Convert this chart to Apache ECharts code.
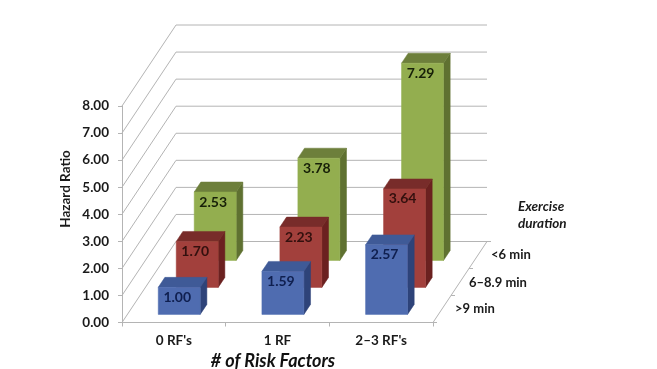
<!DOCTYPE html>
<html>
<head>
<meta charset="utf-8">
<style>
  html, body { margin: 0; padding: 0; background: #fff; }
  #chart { width: 657px; height: 369px; }
</style>
<script src="https://cdn.jsdelivr.net/npm/echarts@6/dist/echarts.min.js"></script>
</head>
<body>
<div id="chart"></div>
<script>
const FONT = "Lato, sans-serif";
const riskFactors = ["0 RF's", "1 RF", "2–3 RF's"];
const hazardTicks = [0, 1, 2, 3, 4, 5, 6, 7, 8];
const over9Min = [1.0, 1.59, 2.57];
const from6To9Min = [1.7, 2.23, 3.64];
const under6Min = [2.53, 3.78, 7.29];
const durations = [">9 min", "6–8.9 min", "<6 min"];

// Oblique projection: the whole floor depth in pixels, and the share of it each bar uses.
const DEPTH_X = 54;
const DEPTH_Y = -81;
const SLOT_FRONT = [0.1, 0.433, 0.766];
const BAR_DEPTH = 0.123;
const BAR_BAND = 0.405;

const BLUE = { front: "#4f6cb0", top: "#3f5a97", side: "#2e4379", text: "#0f1f4f" };
const RED = { front: "#a2403c", top: "#782c2a", side: "#6b2120", text: "#33100e" };
const GREEN = { front: "#93ae4f", top: "#6d7f3b", side: "#5f7131", text: "#172008" };
const WALL = "#b4b4b4";

function poly(points, fill) {
  return { type: "polygon", shape: { points }, style: { fill, stroke: fill, lineWidth: 0.5 } };
}

function line(points, stroke) {
  return { type: "polyline", shape: { points }, style: { stroke, fill: null, lineWidth: 1 } };
}

// Back wall, left wall and the floor edge for one value tick.
function renderWall(params, api) {
  const left = api.coord([0, api.value(1)]);
  const size = api.size([1, 0]);
  const x0 = left[0] - size[0] / 2;
  const x1 = x0 + size[0] * riskFactors.length;
  const y = left[1];
  const children = [
    line([[x0, y], [x0 + DEPTH_X, y + DEPTH_Y], [x1 + DEPTH_X, y + DEPTH_Y]], WALL),
  ];
  if (api.value(1) === 0) {
    children.push(line([[x1, y], [x1 + DEPTH_X, y + DEPTH_Y]], WALL));
    [0, 1 / 3, 2 / 3, 1].forEach((d) => {
      const px = x1 + DEPTH_X * d;
      const py = y + DEPTH_Y * d;
      children.push(line([[px, py], [px + 4, py]], WALL));
    });
  }
  return { type: "group", children };
}

function barSeries(values, slot, colors) {
  return {
    type: "custom",
    coordinateSystem: "cartesian2d",
    clip: false,
    silent: true,
    data: values.map((v, i) => [i, v]),
    encode: { x: 0, y: 1 },
    renderItem(params, api) {
      const top = api.coord([api.value(0), api.value(1)]);
      const base = api.coord([api.value(0), 0]);
      const w = api.size([1, 0])[0] * BAR_BAND;
      const ox = DEPTH_X * SLOT_FRONT[slot];
      const oy = DEPTH_Y * SLOT_FRONT[slot];
      const dx = DEPTH_X * BAR_DEPTH;
      const dy = DEPTH_Y * BAR_DEPTH;
      const xl = top[0] - w / 2 + ox;
      const xr = xl + w;
      const yt = top[1] + oy;
      const yb = base[1] + oy;
      return {
        type: "group",
        children: [
          poly([[xr, yt], [xr + dx, yt + dy], [xr + dx, yb + dy], [xr, yb]], colors.side),
          poly([[xl, yt], [xl + dx, yt + dy], [xr + dx, yt + dy], [xr, yt]], colors.top),
          poly([[xl, yt], [xr, yt], [xr, yb], [xl, yb]], colors.front),
          {
            type: "text",
            style: {
              x: (xl + xr) / 2 - 2,
              y: yt + 10,
              text: api.value(1).toFixed(2),
              fill: colors.text,
              font: "bold 14px " + FONT,
              align: "center",
              verticalAlign: "middle",
            },
          },
        ],
      };
    },
  };
}

function sideText(text, x, y, style) {
  return {
    type: "text",
    left: x,
    top: y,
    style: Object.assign({ text, fill: "#1a1a1a", font: "bold 13px " + FONT }, style),
  };
}

const chart = echarts.init(document.getElementById("chart"), null, { renderer: "canvas" });
chart.setOption({
  animation: false,
  backgroundColor: "#ffffff",
  grid: { left: 122, right: 224, top: 106, bottom: 46.5, outerBoundsMode: "none" },
  xAxis: {
    type: "category",
    data: riskFactors,
    axisLine: { lineStyle: { color: WALL, width: 1 } },
    axisTick: { show: true, length: 4, lineStyle: { color: WALL } },
    axisLabel: { color: "#1a1a1a", fontFamily: FONT, fontWeight: "bold", fontSize: 13.5, margin: 11 },
    name: "# of Risk Factors",
    nameLocation: "middle",
    nameGap: 29,
    nameTextStyle: {
      color: "#111",
      fontFamily: FONT,
      fontWeight: "bold",
      fontStyle: "italic",
      fontSize: 18,
      padding: [0, 9, 0, 0],
    },
  },
  yAxis: {
    type: "value",
    min: 0,
    max: 8,
    interval: 1,
    axisLine: { show: true, lineStyle: { color: WALL, width: 1 } },
    axisTick: { show: true, length: 4, lineStyle: { color: WALL } },
    splitLine: { show: false },
    axisLabel: {
      color: "#1a1a1a",
      fontFamily: FONT,
      fontWeight: "bold",
      fontSize: 13.5,
      margin: 13,
      formatter: (v) => v.toFixed(2),
    },
  },
  series: [
    {
      type: "custom",
      coordinateSystem: "cartesian2d",
      clip: false,
      silent: true,
      data: hazardTicks.map((v) => [0, v]),
      encode: { x: 0, y: 1 },
      renderItem: renderWall,
    },
    barSeries(under6Min, 2, GREEN),
    barSeries(from6To9Min, 1, RED),
    barSeries(over9Min, 0, BLUE),
  ],
  graphic: [
    sideText(durations[0], 455, 302),
    sideText(durations[1], 469, 276),
    sideText(durations[2], 491, 248),
    sideText("Exercise", 518, 200, { font: "italic bold 13.5px " + FONT }),
    sideText("duration", 518, 217, { font: "italic bold 13.5px " + FONT }),
    {
      type: "text",
      x: 66,
      y: 189,
      rotation: Math.PI / 2,
      style: {
        text: "Hazard Ratio",
        fill: "#1a1a1a",
        font: "bold 13.5px " + FONT,
        align: "center",
        verticalAlign: "middle",
      },
    },
  ],
});
</script>
</body>
</html>
